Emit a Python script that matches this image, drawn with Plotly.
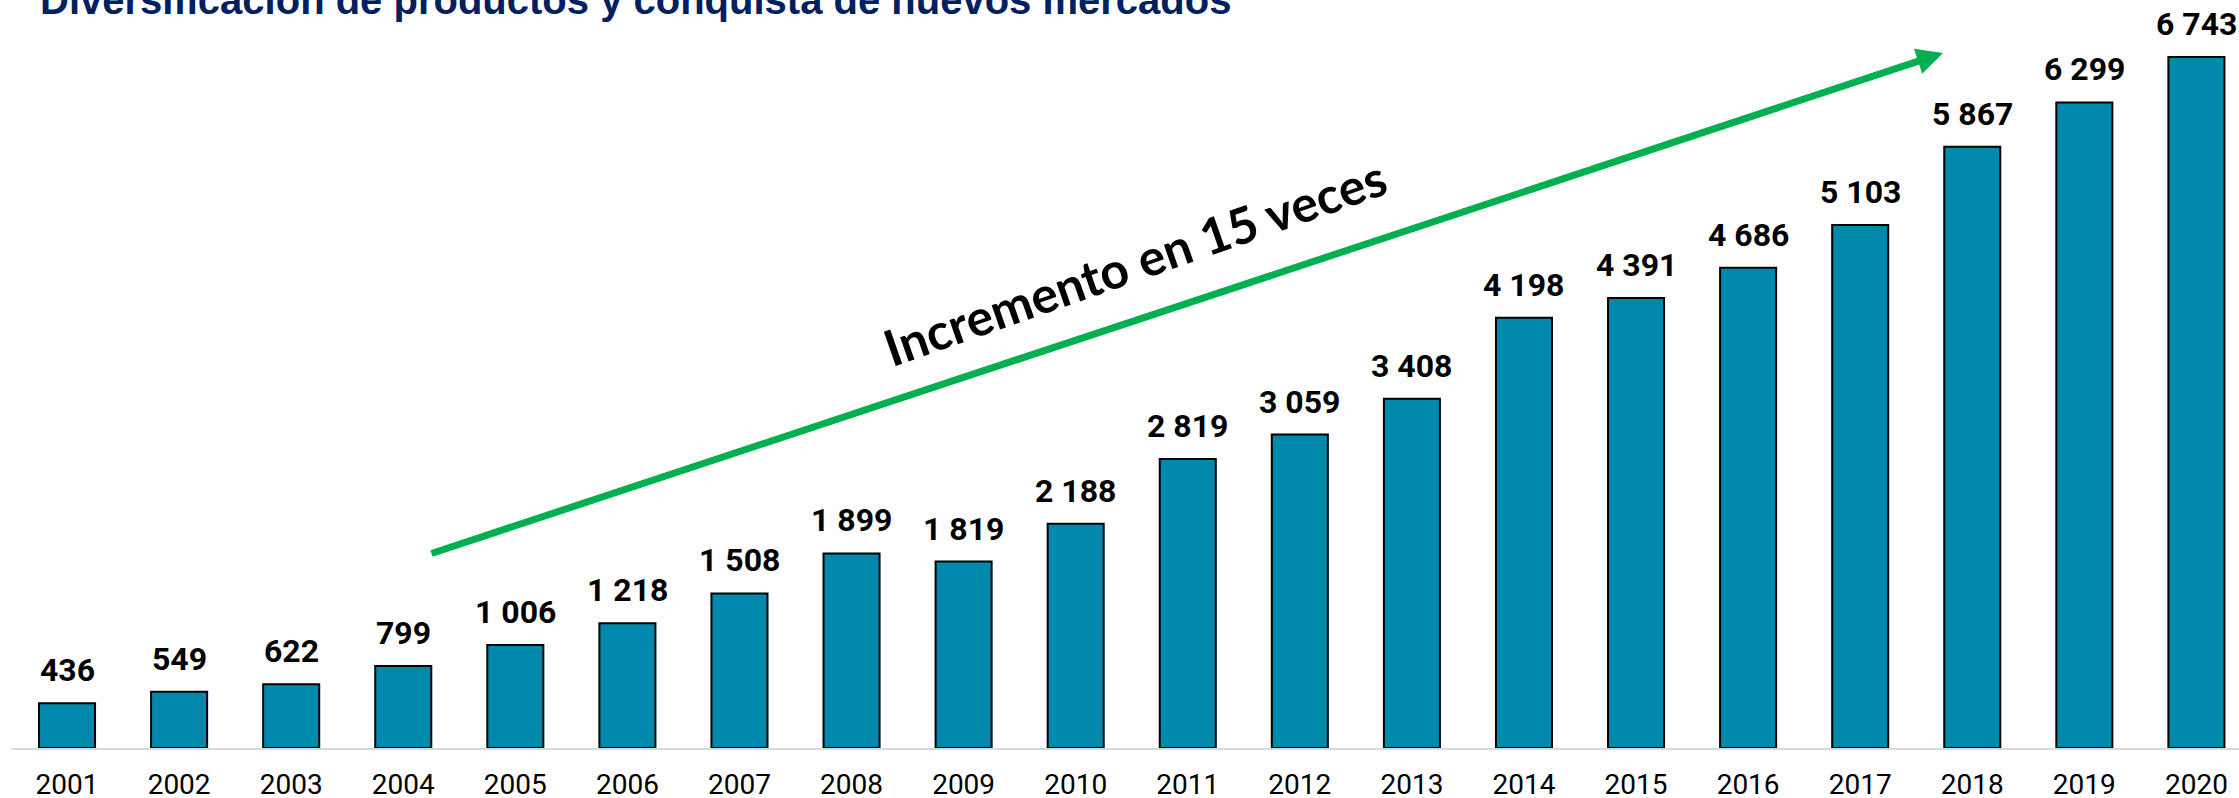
import plotly.graph_objects as go

years = [str(y) for y in range(2001, 2021)]
values = [436, 549, 622, 799, 1006, 1218, 1508, 1899, 1819, 2188,
          2819, 3059, 3408, 4198, 4391, 4686, 5103, 5867, 6299, 6743]
labels = [f"{v:,}".replace(",", " ") for v in values]

title_text = "Diversificación de productos y conquista de nuevos mercados"
arrow_text = "Incremento en 15 veces"

W, H = 2239, 798
ML, MR, MT, MB = 11, 0, 0, 50
PW, PH = W - ML - MR, H - MT - MB

fig = go.Figure()
fig.add_trace(go.Bar(
    x=years, y=values,
    marker=dict(color="#0088ad", line=dict(color="#000000", width=2)),
    hoverinfo="x+y",
))

annotations = []
for i, (v, lab) in enumerate(zip(values, labels)):
    annotations.append(dict(
        x=i, y=v, xref="x", yref="y", text=lab, showarrow=False,
        yanchor="bottom", xanchor="center", yshift=12,
        font=dict(family="Roboto", size=32, color="#000000", weight="bold"),
    ))

# arrow (head at paper coords, tail as pixel offset)
head_x, head_y = 1943, 53
tail_x, tail_y = 430, 554
annotations.append(dict(
    x=(head_x - ML) / PW, y=(MT + PH - head_y) / PH, xref="paper", yref="paper",
    ax=tail_x - head_x, ay=tail_y - head_y, axref="pixel", ayref="pixel",
    text="", showarrow=True, arrowhead=2, arrowsize=0.75, arrowwidth=7,
    arrowcolor="#00b050", standoff=0, startstandoff=0,
))
cx, cy = 1135, 262
annotations.append(dict(
    x=(cx - ML) / PW, y=(MT + PH - cy) / PH, xref="paper", yref="paper",
    text=arrow_text, showarrow=False, textangle=-19.3,
    xanchor="center", yanchor="middle",
    font=dict(family="Lato", size=50, color="#000000", weight="bold"),
))

fig.update_layout(
    width=W, height=H,
    margin=dict(l=ML, r=MR, t=MT, b=MB, pad=0, autoexpand=False),
    paper_bgcolor="white", plot_bgcolor="white",
    showlegend=False,
    bargap=0.5,
    title=dict(
        text=title_text, x=40 / W, xanchor="left", xref="container",
        y=1, yanchor="middle", yref="container",
        font=dict(family="Liberation Sans, Arial, sans-serif", size=40,
                  color="#002060", weight="bold"),
    ),
    xaxis=dict(
        type="category", range=[-0.5, 19.38], automargin=False,
        showline=True, linecolor="#d9d9d9", linewidth=2,
        showgrid=False, zeroline=False, ticks="",
        tickfont=dict(family="Roboto", size=28, color="#000000"),
        ticklabelstandoff=10,
    ),
    yaxis=dict(
        range=[0, 7299], visible=False, showgrid=False, zeroline=False,
        automargin=False,
    ),
    annotations=annotations,
)

fig.write_html(
    "out.html",
    config={"displayModeBar": False},
    post_script="document.body.style.margin='0';document.body.style.overflow='hidden';",
)
